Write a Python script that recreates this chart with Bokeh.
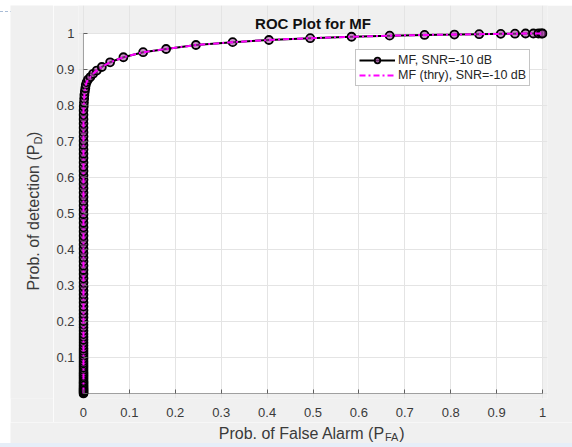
import math
from bokeh.plotting import figure
from bokeh.models import (Range1d, FixedTicker, Label, Legend, LegendItem, Div, Spacer,
                          BoxAnnotation)
from bokeh.layouts import column, row
from bokeh.embed import file_html
from bokeh.resources import INLINE

# ---------------- data ----------------
pd_sim = [0.000, 0.003, 0.006, 0.009, 0.012, 0.015, 0.019, 0.023, 0.027, 0.031,
          0.035, 0.040, 0.045, 0.050, 0.055, 0.060, 0.066, 0.072, 0.078, 0.084,
          0.090, 0.097, 0.104, 0.111, 0.118, 0.125, 0.133, 0.141, 0.149, 0.157,
          0.165, 0.174, 0.183, 0.192, 0.201, 0.211, 0.221, 0.231, 0.242, 0.253,
          0.264, 0.275, 0.286, 0.297, 0.308, 0.320, 0.332, 0.343, 0.355, 0.367,
          0.378, 0.390, 0.402, 0.414, 0.426, 0.438, 0.450, 0.462, 0.474, 0.486,
          0.498, 0.510, 0.522, 0.534, 0.546, 0.558, 0.570, 0.582, 0.594, 0.606,
          0.618, 0.630, 0.642, 0.654, 0.666, 0.678, 0.690, 0.702, 0.714, 0.726,
          0.738, 0.750, 0.762, 0.774, 0.786, 0.797, 0.808, 0.819, 0.829, 0.839,
          0.848, 0.857, 0.865, 0.872,
          0.879, 0.888, 0.897, 0.907, 0.920, 0.934, 0.948, 0.957, 0.968, 0.976,
          0.982, 0.987, 0.991, 0.994, 0.996, 0.997, 0.998, 0.999, 0.9995, 1.0,
          1.0, 1.0, 1.0, 1.0]
pfa_sim = [0, 0, 0, 0, 0, 0, 0, 0, 0, 0,
           0, 0, 0, 0, 0, 0, 0, 0, 0, 0,
           0, 0, 0, 0, 0, 0, 0, 0, 0, 0,
           0, 0, 0, 0, 0, 0, 0, 0, 0, 0,
           0, 0, 0, 0, 0, 0, 0, 0, 0, 0,
           0, 0, 0, 0, 0, 0, 0, 0, 0, 0,
           0, 0, 0, 0, 0, 0, 0, 0, 0, 0,
           0, 0, 0, 0, 0, 0, 0, 0, 0, 0,
           0, 0, 0, 0, 0, 0.0005, 0.001, 0.0015, 0.002, 0.003,
           0.004, 0.005, 0.007, 0.010,
           0.015, 0.021, 0.029, 0.040, 0.058, 0.087, 0.130, 0.180, 0.245, 0.325,
           0.404, 0.494, 0.584, 0.667, 0.743, 0.808, 0.862, 0.909, 0.940, 0.963,
           0.980, 0.991, 0.997, 1.0]
pfa_thry = pfa_sim
pd_thry = pd_sim

ticks = [0, 0.1, 0.2, 0.3, 0.4, 0.5, 0.6, 0.7, 0.8, 0.9, 1]
x_tick_labels = ["0", "0.1", "0.2", "0.3", "0.4", "0.5", "0.6", "0.7", "0.8", "0.9", "1"]
y_tick_labels = ["", "0.1", "0.2", "0.3", "0.4", "0.5", "0.6", "0.7", "0.8", "0.9", "1"]

title_text = "ROC Plot for MF"
label_sim = "MF, SNR=-10 dB"
label_thry = "MF (thry), SNR=-10 dB"
xlabel_main, xlabel_sub = "Prob. of False Alarm (P", "FA"
ylabel_main, ylabel_sub = "Prob. of detection (P", "D"

# ---------------- geometry (page pixels) ----------------
FONT = "Liberation Sans"
GRAY = "#f0f0f0"
LAB_COL = "#3a3a3a"
AXIS_COL = "#5f5f5f"
AX0_X, AX1_X = 80.0, 542.0      # page x of data 0 and 1
AX0_Y, AX1_Y = 393.0, 33.0      # page y of data 0 and 1

PAD = 5                          # frame extends PAD px beyond data 0 / 1
FR_L, FR_R = AX0_X - PAD, AX1_X + PAD
FR_T, FR_B = 5, AX0_Y + PAD
BL, BR, BB = 22, 572 - (AX1_X + PAD), 24
P_X0 = FR_L - BL
P_W = 572 - P_X0
P_Y0 = 5
P_H = FR_B + BB - P_Y0
YF_X0, YF_W = 10, P_X0 - 10
XF_Y0, XF_H = P_Y0 + P_H, 443 - (P_Y0 + P_H)


def dx(px):
    return (px - AX0_X) / (AX1_X - AX0_X)


def dy(py):
    return (AX0_Y - py) / (AX0_Y - AX1_Y)


p = figure(width=int(P_W), height=int(P_H),
           x_range=Range1d(dx(FR_L), dx(FR_R)), y_range=Range1d(dy(FR_B), dy(FR_T)),
           output_backend="svg", toolbar_location=None,
           min_border_left=int(BL), min_border_right=int(BR),
           min_border_top=0, min_border_bottom=int(BB),
           background_fill_color=GRAY, border_fill_color=GRAY,
           outline_line_color=None)

# white axes area + MATLAB-style left/bottom axis lines (box off)
p.add_layout(BoxAnnotation(left=0, right=1, bottom=0, top=1, fill_color="white",
                           fill_alpha=1.0, line_color=None, level="image"))
p.add_layout(BoxAnnotation(left=0, right=0, bottom=0, top=1, fill_alpha=0,
                           line_color=AXIS_COL, line_width=1, level="underlay"))
p.add_layout(BoxAnnotation(left=0, right=1, bottom=0, top=0, fill_alpha=0,
                           line_color=AXIS_COL, line_width=1, level="underlay"))

for ax, labs in ((p.xaxis[0], x_tick_labels), (p.yaxis[0], y_tick_labels)):
    ax.ticker = FixedTicker(ticks=ticks)
    ax.major_label_overrides = dict(zip(ticks, labs))
    ax.axis_line_color = None
    ax.major_tick_line_color = AXIS_COL
    ax.major_tick_out = -PAD
    ax.major_tick_in = PAD + 4
    ax.minor_tick_line_color = None
    ax.major_label_text_font = FONT
    ax.major_label_text_font_size = "13px"
    ax.major_label_text_color = LAB_COL

p.xaxis[0].major_label_standoff = 9
p.yaxis[0].major_label_standoff = 4

for g in p.grid:
    g.grid_line_color = "#e4e4e4"
    g.grid_line_width = 1
    g.bounds = (0, 1)

# ---------------- series ----------------
l1 = p.line(pfa_sim, pd_sim, line_color="black", line_width=2)
s1 = p.scatter(pfa_sim, pd_sim, marker="circle", size=8, line_color="black",
               line_width=1.8, fill_color="#a848a8", fill_alpha=0.6)
l2 = p.line(pfa_thry, pd_thry, line_color="#ff00ff", line_width=2, line_dash="6 3 2 3")

legend = Legend(items=[LegendItem(label=label_sim, renderers=[l1, s1]),
                       LegendItem(label=label_thry, renderers=[l2])],
                location=(352 - FR_L, FR_B - 86),
                margin=0, padding=3, spacing=1,
                glyph_width=36, glyph_height=14, label_height=14, label_standoff=3,
                label_text_font=FONT, label_text_font_size="12.5px",
                label_text_color="#262626",
                border_line_color="#8a8a8a", border_line_width=1,
                background_fill_color="white", background_fill_alpha=1.0)
p.add_layout(legend)

SHIFT = 5  # empirical offset of Label baselines
p.add_layout(Label(x=dx(311), y=dy(27.5 - SHIFT), text=title_text,
                   text_align="center", text_baseline="alphabetic",
                   text_font=FONT, text_font_size="15px", text_font_style="bold",
                   text_color="#111111"))


# ---------------- label strips ----------------
def strip(w, h):
    f = figure(width=int(w), height=int(h), x_range=Range1d(0, w), y_range=Range1d(0, h),
               output_backend="svg", toolbar_location=None,
               x_axis_location=None, y_axis_location=None, min_border=0,
               background_fill_color=GRAY, border_fill_color=GRAY,
               outline_line_color=None)
    f.grid.visible = False
    return f


yf = strip(YF_W, P_H)
yfx = lambda px: px - YF_X0
yfy = lambda py: P_Y0 + P_H - py
ym_end = 152.6
yb = 38 - SHIFT
yf.add_layout(Label(x=yfx(yb), y=yfy(ym_end), text=ylabel_main, angle=math.pi / 2,
                    text_align="right", text_baseline="alphabetic",
                    text_font=FONT, text_font_size="16px", text_color=LAB_COL))
yf.add_layout(Label(x=yfx(yb + 4), y=yfy(ym_end), text=ylabel_sub, angle=math.pi / 2,
                    text_align="left", text_baseline="alphabetic",
                    text_font=FONT, text_font_size="11px", text_color=LAB_COL))
yf.add_layout(Label(x=yfx(yb), y=yfy(ym_end - 8), text=")", angle=math.pi / 2,
                    text_align="left", text_baseline="alphabetic",
                    text_font=FONT, text_font_size="16px", text_color=LAB_COL))

xf = strip(562, XF_H)
xfx = lambda px: px - 10
xfy = lambda py: XF_Y0 + XF_H - py
xm_end = 384.5
xb = 437.5 - SHIFT
xf.add_layout(Label(x=xfx(xm_end), y=xfy(xb), text=xlabel_main,
                    text_align="right", text_baseline="alphabetic",
                    text_font=FONT, text_font_size="16px", text_color=LAB_COL))
xf.add_layout(Label(x=xfx(xm_end), y=xfy(xb + 3.5), text=xlabel_sub,
                    text_align="left", text_baseline="alphabetic",
                    text_font=FONT, text_font_size="11px", text_color=LAB_COL))
xf.add_layout(Label(x=xfx(xm_end + 14.2), y=xfy(xb), text=")",
                    text_align="left", text_baseline="alphabetic",
                    text_font=FONT, text_font_size="16px", text_color=LAB_COL))

# ---------------- page frame ----------------
top = Div(text='<div style="width:572px;height:0;margin-top:1px;border-top:1px dashed #a9bcd6"></div>',
          width=572, height=5, margin=0)
left = Spacer(width=10, height=int(P_H + XF_H), margin=0)
bottom = Div(text="", width=572, height=4, margin=0,
             styles={"background-color": "#e6eef8"})
body = column(row(yf, p, margin=0), xf, margin=0)
layout = column(top, row(left, body, margin=0), bottom, margin=0)

open("out.html", "w").write(file_html(layout, INLINE))
